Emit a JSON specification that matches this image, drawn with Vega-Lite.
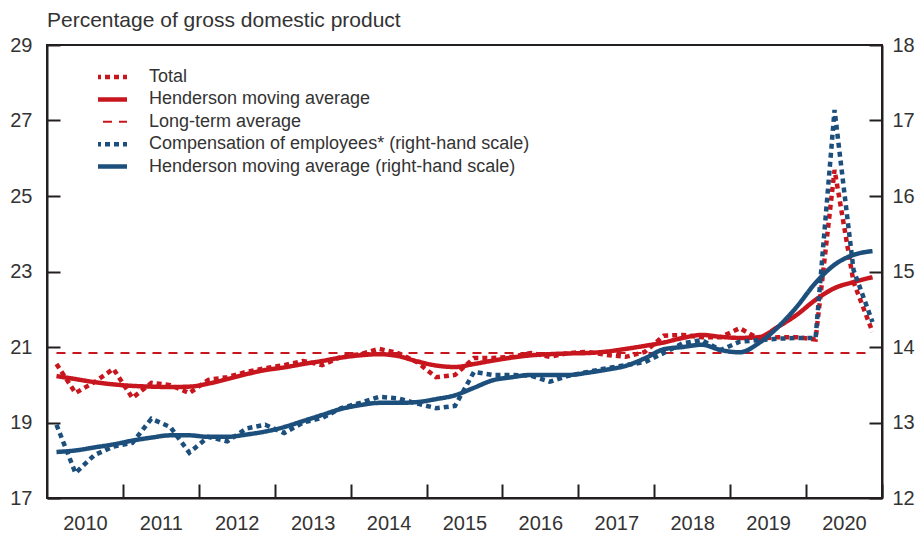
{
  "$schema": "https://vega.github.io/schema/vega-lite/v6.json",
  "width": 835,
  "height": 453,
  "autosize": {"type": "none"},
  "padding": {"left": 47, "top": 45, "right": 33, "bottom": 35},
  "background": "white",
  "title": {"text": "Percentage of gross domestic product", "anchor": "start", "frame": "group", "fontSize": 21, "fontWeight": "normal", "color": "#333333", "offset": 4},
  "config": {
    "font": "Liberation Sans",
    "view": {"stroke": "#231f20", "strokeWidth": 2},
    "axis": {"domainColor": "#231f20", "domainWidth": 2, "tickColor": "#231f20", "tickWidth": 2, "labelFontSize": 20, "labelColor": "#333333", "grid": false, "title": null, "labelFlush": false, "labelOverlap": false}
  },
  "data": {"values": [
    {"t": 2010.125, "total": 20.55, "hma": 20.23, "lta": 20.84, "comp": 12.97, "hma2": 12.61},
    {"t": 2010.375, "total": 19.78, "hma": 20.15, "lta": 20.84, "comp": 12.33, "hma2": 12.63},
    {"t": 2010.625, "total": 20.07, "hma": 20.07, "lta": 20.84, "comp": 12.57, "hma2": 12.67},
    {"t": 2010.875, "total": 20.42, "hma": 20.01, "lta": 20.84, "comp": 12.68, "hma2": 12.71},
    {"t": 2011.125, "total": 19.65, "hma": 19.97, "lta": 20.84, "comp": 12.73, "hma2": 12.76},
    {"t": 2011.375, "total": 20.05, "hma": 19.95, "lta": 20.84, "comp": 13.05, "hma2": 12.80},
    {"t": 2011.625, "total": 19.99, "hma": 19.94, "lta": 20.84, "comp": 12.94, "hma2": 12.83},
    {"t": 2011.875, "total": 19.78, "hma": 19.95, "lta": 20.84, "comp": 12.60, "hma2": 12.83},
    {"t": 2012.125, "total": 20.13, "hma": 20.03, "lta": 20.84, "comp": 12.81, "hma2": 12.81},
    {"t": 2012.375, "total": 20.20, "hma": 20.15, "lta": 20.84, "comp": 12.75, "hma2": 12.81},
    {"t": 2012.625, "total": 20.34, "hma": 20.28, "lta": 20.84, "comp": 12.92, "hma2": 12.84},
    {"t": 2012.875, "total": 20.44, "hma": 20.39, "lta": 20.84, "comp": 12.97, "hma2": 12.88},
    {"t": 2013.125, "total": 20.52, "hma": 20.46, "lta": 20.84, "comp": 12.86, "hma2": 12.94},
    {"t": 2013.375, "total": 20.63, "hma": 20.55, "lta": 20.84, "comp": 13.00, "hma2": 13.02},
    {"t": 2013.625, "total": 20.52, "hma": 20.63, "lta": 20.84, "comp": 13.06, "hma2": 13.10},
    {"t": 2013.875, "total": 20.74, "hma": 20.72, "lta": 20.84, "comp": 13.19, "hma2": 13.18},
    {"t": 2014.125, "total": 20.81, "hma": 20.78, "lta": 20.84, "comp": 13.26, "hma2": 13.23},
    {"t": 2014.375, "total": 20.95, "hma": 20.81, "lta": 20.84, "comp": 13.34, "hma2": 13.26},
    {"t": 2014.625, "total": 20.84, "hma": 20.76, "lta": 20.84, "comp": 13.32, "hma2": 13.26},
    {"t": 2014.875, "total": 20.60, "hma": 20.62, "lta": 20.84, "comp": 13.25, "hma2": 13.27},
    {"t": 2015.125, "total": 20.20, "hma": 20.51, "lta": 20.84, "comp": 13.19, "hma2": 13.31},
    {"t": 2015.375, "total": 20.26, "hma": 20.47, "lta": 20.84, "comp": 13.22, "hma2": 13.36},
    {"t": 2015.625, "total": 20.71, "hma": 20.55, "lta": 20.84, "comp": 13.67, "hma2": 13.46},
    {"t": 2015.875, "total": 20.71, "hma": 20.64, "lta": 20.84, "comp": 13.63, "hma2": 13.56},
    {"t": 2016.125, "total": 20.74, "hma": 20.72, "lta": 20.84, "comp": 13.63, "hma2": 13.60},
    {"t": 2016.375, "total": 20.84, "hma": 20.78, "lta": 20.84, "comp": 13.62, "hma2": 13.63},
    {"t": 2016.625, "total": 20.74, "hma": 20.81, "lta": 20.84, "comp": 13.54, "hma2": 13.63},
    {"t": 2016.875, "total": 20.84, "hma": 20.83, "lta": 20.84, "comp": 13.62, "hma2": 13.63},
    {"t": 2017.125, "total": 20.87, "hma": 20.84, "lta": 20.84, "comp": 13.67, "hma2": 13.66},
    {"t": 2017.375, "total": 20.79, "hma": 20.88, "lta": 20.84, "comp": 13.72, "hma2": 13.70},
    {"t": 2017.625, "total": 20.74, "hma": 20.95, "lta": 20.84, "comp": 13.76, "hma2": 13.75},
    {"t": 2017.875, "total": 20.87, "hma": 21.03, "lta": 20.84, "comp": 13.80, "hma2": 13.85},
    {"t": 2018.125, "total": 21.30, "hma": 21.12, "lta": 20.84, "comp": 13.92, "hma2": 13.97},
    {"t": 2018.375, "total": 21.32, "hma": 21.24, "lta": 20.84, "comp": 14.05, "hma2": 14.00},
    {"t": 2018.625, "total": 21.26, "hma": 21.32, "lta": 20.84, "comp": 14.09, "hma2": 14.03},
    {"t": 2018.875, "total": 21.26, "hma": 21.27, "lta": 20.84, "comp": 13.96, "hma2": 13.96},
    {"t": 2019.125, "total": 21.50, "hma": 21.24, "lta": 20.84, "comp": 14.07, "hma2": 13.93},
    {"t": 2019.375, "total": 21.22, "hma": 21.26, "lta": 20.84, "comp": 14.09, "hma2": 14.05},
    {"t": 2019.625, "total": 21.26, "hma": 21.53, "lta": 20.84, "comp": 14.11, "hma2": 14.26},
    {"t": 2019.875, "total": 21.26, "hma": 21.85, "lta": 20.84, "comp": 14.12, "hma2": 14.53},
    {"t": 2020.125, "total": 21.20, "hma": 22.25, "lta": 20.84, "comp": 14.12, "hma2": 14.85},
    {"t": 2020.375, "total": 25.69, "hma": 22.56, "lta": 20.84, "comp": 17.14, "hma2": 15.09},
    {"t": 2020.625, "total": 22.72, "hma": 22.72, "lta": 20.84, "comp": 15.02, "hma2": 15.22},
    {"t": 2020.875, "total": 21.40, "hma": 22.85, "lta": 20.84, "comp": 14.33, "hma2": 15.27}
  ]},
  "encoding": {
    "x": {"field": "t", "type": "quantitative", "scale": {"domain": [2010, 2021], "nice": false, "zero": false},
      "axis": {"values": [2011, 2012, 2013, 2014, 2015, 2016, 2017, 2018, 2019, 2020, 2021], "labelExpr": "datum.value - 1", "labelOffset": -38, "tickSize": -14, "labelPadding": 29, "orient": "bottom"}},
    "color": {"field": "series", "type": "nominal",
      "scale": {"domain": ["total", "hma", "lta", "comp", "hma2"], "range": ["#c8161e", "#c8161e", "#c8161e", "#1c4f7c", "#1c4f7c"]},
      "legend": {"orient": "none", "legendX": 51, "legendY": 22, "title": null, "symbolType": "stroke", "symbolSize": 1600, "clipHeight": 20, "rowPadding": 2.4, "labelOffset": 33, "labelFontSize": 18, "labelColor": "#333333", "padding": 0, "labelLimit": 600,
        "labelExpr": "datum.value == 'total' ? 'Total' : datum.value == 'hma' ? 'Henderson moving average' : datum.value == 'lta' ? 'Long-term average' : datum.value == 'comp' ? 'Compensation of employees* (right-hand scale)' : 'Henderson moving average (right-hand scale)'",
        "encode": {"symbols": {"update": {"strokeWidth": {"signal": "datum.value == 'lta' ? 2 : 4.5"}}}}}},
    "strokeDash": {"field": "series", "type": "nominal",
      "scale": {"domain": ["total", "hma", "lta", "comp", "hma2"], "range": [[5, 4], [1, 0], [9, 7], [5, 4], [1, 0]]}}
  },
  "layer": [
    {
      "transform": [{"fold": ["lta"], "as": ["series", "value"]}],
      "mark": {"type": "line", "strokeWidth": 2},
      "encoding": {"y": {"field": "value", "type": "quantitative", "scale": {"domain": [17, 29], "nice": false, "zero": false},
        "axis": {"orient": "left", "values": [17, 19, 21, 23, 25, 27, 29], "tickSize": -13, "labelPadding": 28}}}
    },
    {
      "transform": [{"fold": ["hma"], "as": ["series", "value"]}],
      "mark": {"type": "line", "strokeWidth": 4.5, "interpolate": "monotone"},
      "encoding": {"y": {"field": "value", "type": "quantitative", "scale": {"domain": [17, 29], "nice": false, "zero": false}, "axis": null}}
    },
    {
      "transform": [{"fold": ["total"], "as": ["series", "value"]}],
      "mark": {"type": "line", "strokeWidth": 4.5},
      "encoding": {"y": {"field": "value", "type": "quantitative", "scale": {"domain": [17, 29], "nice": false, "zero": false}, "axis": null}}
    },
    {
      "transform": [{"fold": ["comp"], "as": ["series", "value"]}],
      "mark": {"type": "line", "strokeWidth": 4.5},
      "encoding": {"y": {"field": "value", "type": "quantitative", "scale": {"domain": [12, 18], "nice": false, "zero": false},
        "axis": {"orient": "right", "values": [12, 13, 14, 15, 16, 17, 18], "tickSize": -13, "labelPadding": 23}}}
    },
    {
      "transform": [{"fold": ["hma2"], "as": ["series", "value"]}],
      "mark": {"type": "line", "strokeWidth": 4.5, "interpolate": "monotone"},
      "encoding": {"y": {"field": "value", "type": "quantitative", "scale": {"domain": [12, 18], "nice": false, "zero": false}, "axis": null}}
    }
  ],
  "resolve": {"scale": {"y": "independent"}}
}
